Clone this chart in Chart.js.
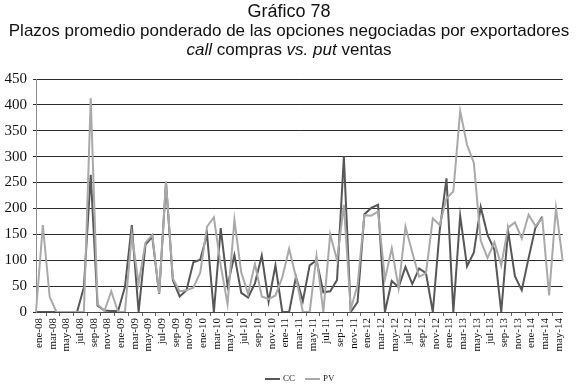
<!DOCTYPE html>
<html>
<head>
<meta charset="utf-8">
<script src="https://cdn.jsdelivr.net/npm/chart.js@4.4.1/dist/chart.umd.min.js"></script>
<style>
  body { margin: 0; background: #fff; }
  #wrap { position: relative; width: 578px; height: 386px; }
  #grafico { position: absolute; left: 0; top: 0; }
  #titulo {
    position: absolute; top: 2px; left: 0; width: 578px; text-align: center;
    font-family: "Liberation Sans", Arial, sans-serif; font-size: 17px; line-height: 19px; color: #111;
  }
  #titulo .g { font-size: 18px; }
  #leyenda {
    position: absolute; top: 372px; left: 265px; white-space: nowrap;
    font-family: "Liberation Serif", "Times New Roman", serif; font-size: 9px; line-height: 12px; color: #222;
  }
  #leyenda .item { display: inline-block; margin-right: 10px; }
  #leyenda .linea { display: inline-block; width: 15px; height: 2px; vertical-align: middle; margin-right: 3px; }
</style>
</head>
<body>
<div id="wrap">
  <canvas id="grafico" width="578" height="386"></canvas>
  <div id="titulo">
    <span class="g">Gráfico 78</span><br>
    Plazos promedio ponderado de las opciones negociadas por exportadores<br>
    <i>call</i> compras <i>vs.</i> <i>put</i> ventas
  </div>
  <div id="leyenda"></div>
</div>
<script>
// Meses del eje (ene-08 a jun-14, 78 observaciones)
const meses = ['ene', 'feb', 'mar', 'abr', 'may', 'jun', 'jul', 'ago', 'sep', 'oct', 'nov', 'dic'];
const anios = ['08', '09', '10', '11', '12', '13', '14'];
const nObs = 78;

// Plazo promedio ponderado (días) - call compras
const cc = [
  0, 0, 0, 0, 0, 0, 0, 48, 265, 12, 3, 2,
  2, 48, 168, 0, 130, 145, 35, 250, 62, 30, 42, 96,
  101, 150, 0, 162, 50, 110, 37, 28, 55, 109, 20, 90,
  0, 0, 68, 21, 90, 100, 38, 40, 62, 300, 0, 19,
  189, 201, 207, 0, 60, 48, 87, 54, 84, 75, 0, 157,
  258, 0, 186, 88, 115, 203, 149, 120, 0, 157, 69, 42,
  104, 163, 184, null, null, null
];

// Plazo promedio ponderado (días) - put ventas
const pv = [
  0, 168, 29, 0, 0, 0, 0, 0, 413, 15, 2, 40,
  0, 0, 150, 55, 134, 149, 36, 252, 65, 40, 42, 47,
  76, 165, 183, 90, 15, 178, 76, 35, 93, 30, 25, 32,
  67, 122, 67, 0, 0, 108, 0, 150, 100, 207, 5, 52,
  187, 186, 194, 63, 123, 46, 165, 115, 68, 75, 181, 168,
  219, 233, 388, 323, 288, 138, 104, 135, 90, 163, 173, 142,
  188, 166, 181, 32, 201, 98
];

const yMin = 0, yMax = 450, yPaso = 50;
const colorCC = '#575757';
const colorPV = '#a9a9a9';

const etiquetas = [];
anios.forEach(a => meses.forEach(m => {
  if (etiquetas.length < nObs) etiquetas.push(m + '-' + a);
}));

const serif = '"Liberation Serif", "Times New Roman", serif';

new Chart(document.getElementById('grafico'), {
  type: 'line',
  data: {
    labels: etiquetas,
    datasets: [
      { label: 'CC', data: cc, borderColor: colorCC, backgroundColor: colorCC, borderWidth: 2, pointRadius: 0, order: 1 },
      { label: 'PV', data: pv, borderColor: colorPV, backgroundColor: colorPV, borderWidth: 2, pointRadius: 0, order: 0 }
    ]
  },
  options: {
    responsive: false,
    animation: false,
    layout: { padding: { top: 79, left: 0, right: 8, bottom: 0 } },
    plugins: { legend: { display: false }, tooltip: { enabled: false } },
    scales: {
      x: {
        offset: false,
        afterFit: s => { s.height = 74; },
        grid: {
          drawOnChartArea: false,
          offset: true,
          tickLength: 4,
          color: c => (c.index % 2 === 0 ? '#666' : 'rgba(0,0,0,0)')
        },
        border: { color: '#444', width: 1 },
        ticks: {
          autoSkip: false,
          minRotation: 90,
          maxRotation: 90,
          padding: 2,
          labelOffset: 3,
          color: '#111',
          font: { family: serif, size: 11 },
          callback: (v, i) => (i % 2 === 0 ? etiquetas[i] : '')
        }
      },
      y: {
        min: yMin,
        max: yMax,
        afterFit: s => { s.width = 36; },
        grid: { color: '#2a2a2a', tickLength: 3 },
        border: { color: '#8a8a8a', width: 1 },
        ticks: {
          stepSize: yPaso,
          padding: 6,
          color: '#111',
          font: { family: serif, size: 15 }
        }
      }
    }
  }
});

// Leyenda
const leyenda = document.getElementById('leyenda');
[['CC', colorCC], ['PV', colorPV]].forEach(([nombre, color]) => {
  const item = document.createElement('span');
  item.className = 'item';
  item.innerHTML = `<span class="linea" style="background:${color}"></span>${nombre}`;
  leyenda.appendChild(item);
});
</script>
</body>
</html>
